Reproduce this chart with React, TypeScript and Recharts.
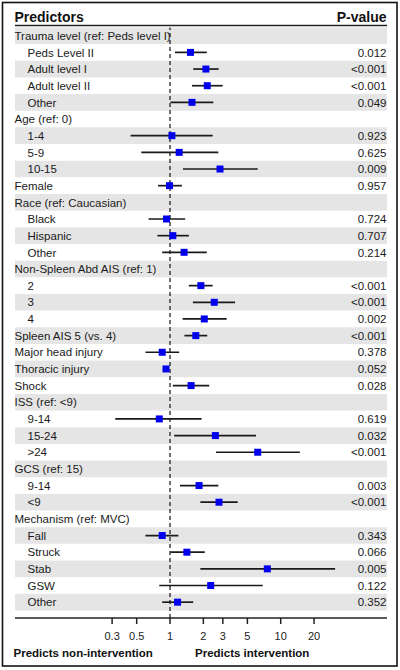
import React from 'react';
import { ComposedChart, Scatter, XAxis, YAxis, ErrorBar, ReferenceArea, ReferenceLine } from 'recharts';

const predictors = [
  'Trauma level (ref: Peds level I)', 'Peds Level II', 'Adult level I', 'Adult level II', 'Other',
  'Age (ref: 0)', '1-4', '5-9', '10-15',
  'Female',
  'Race (ref: Caucasian)', 'Black', 'Hispanic', 'Other',
  'Non-Spleen Abd AIS (ref: 1)', '2', '3', '4',
  'Spleen AIS 5 (vs. 4)', 'Major head injury', 'Thoracic injury', 'Shock',
  'ISS (ref: <9)', '9-14', '15-24', '>24',
  'GCS (ref: 15)', '9-14', '<9',
  'Mechanism (ref: MVC)', 'Fall', 'Struck', 'Stab', 'GSW', 'Other',
];
const indented = [
  false, true, true, true, true,
  false, true, true, true,
  false,
  false, true, true, true,
  false, true, true, true,
  false, false, false, false,
  false, true, true, true,
  false, true, true,
  false, true, true, true, true, true,
];
const oddsRatios: (number | null)[] = [
  null, 1.53, 2.11, 2.17, 1.58,
  null, 1.04, 1.21, 2.83,
  0.99,
  null, 0.93, 1.06, 1.34,
  null, 1.9, 2.51, 2.04,
  1.71, 0.85, 0.92, 1.55,
  null, 0.8, 2.57, 6.2,
  null, 1.83, 2.77,
  null, 0.85, 1.42, 7.57, 2.33, 1.17,
];
const ciLower: (number | null)[] = [
  null, 1.11, 1.62, 1.58, 1.01,
  null, 0.44, 0.55, 1.31,
  0.78,
  null, 0.64, 0.77, 0.85,
  null, 1.48, 1.61, 1.3,
  1.35, 0.6, 0.86, 1.06,
  null, 0.32, 1.09, 2.6,
  null, 1.23, 1.88,
  null, 0.6, 1.01, 1.88, 0.8, 0.85,
];
const ciUpper: (number | null)[] = [
  null, 2.15, 2.75, 2.99, 2.46,
  null, 2.43, 2.73, 6.2,
  1.28,
  null, 1.37, 1.48, 2.15,
  null, 2.43, 3.87, 3.25,
  2.17, 1.21, 0.98, 2.26,
  null, 1.93, 5.98, 14.9,
  null, 2.73, 4.09,
  null, 1.19, 2.06, 31.0, 6.88, 1.62,
];
const pValues = [
  '', '0.012', '<0.001', '<0.001', '0.049',
  '', '0.923', '0.625', '0.009',
  '0.957',
  '', '0.724', '0.707', '0.214',
  '', '<0.001', '<0.001', '0.002',
  '<0.001', '0.378', '0.052', '0.028',
  '', '0.619', '0.032', '<0.001',
  '', '0.003', '<0.001',
  '', '0.343', '0.066', '0.005', '0.122', '0.352',
];
const xTicks = [0.3, 0.5, 1, 2, 3, 5, 10, 20];

const FONT = '"Liberation Sans", Arial, Helvetica, sans-serif';
const rowNumbers = predictors.map((_, i) => i + 1);
const points = predictors
  .map((label, i) => ({
    row: i + 1,
    label,
    or: oddsRatios[i],
    err: oddsRatios[i] != null ? [(oddsRatios[i] as number) - (ciLower[i] as number), (ciUpper[i] as number) - (oddsRatios[i] as number)] : null,
  }))
  .filter((d) => d.or != null);

const RowTick = (props: any) => {
  const { y, payload } = props;
  const i = Math.round(payload.value) - 1;
  return (
    <g>
      <text x={indented[i] ? 27.5 : 14.5} y={y} dy={4.2} fontSize={11.5} fontFamily={FONT} fill="#1a1a1a" textAnchor="start">
        {predictors[i]}
      </text>
      {pValues[i] ? (
        <text x={386.5} y={y} dy={4.2} fontSize={11.5} fontFamily={FONT} fill="#1a1a1a" textAnchor="end">
          {pValues[i]}
        </text>
      ) : null}
    </g>
  );
};

const Square = (props: any) => {
  const { cx, cy } = props;
  if (cx == null || cy == null) return <g />;
  return <rect x={cx - 3.5} y={cy - 3.5} width={7} height={7} fill="#0000ee" />;
};

const Empty = () => <g />;

export default function App() {
  return (
    <div style={{ position: 'absolute', left: 0, top: 0, width: 400, height: 670, background: '#fff' }}>
      <ComposedChart
        width={400}
        height={670}
        data={points}
        margin={{ top: 27.4, right: 13, bottom: 22, left: 14 }}
      >
        {rowNumbers
          .filter((r) => r % 2 === 1)
          .map((r) => (
            <ReferenceArea key={r} y1={r - 0.5} y2={r + 0.5} fill="#e5e5e5" fillOpacity={1} stroke="none" ifOverflow="visible" />
          ))}
        <XAxis
          type="number"
          dataKey="or"
          scale="log"
          domain={[0.0398, 91.2]}
          allowDataOverflow
          ticks={xTicks}
          interval={0}
          tickFormatter={(v: number) => String(v)}
          tick={{ fontSize: 11, fill: '#222', fontFamily: FONT }}
          tickSize={6}
          tickMargin={8}
          height={30}
          axisLine={{ stroke: '#222', strokeWidth: 1.5 }}
          tickLine={{ stroke: '#222', strokeWidth: 1.5 }}
        />
        <YAxis
          type="number"
          dataKey="row"
          domain={[0.5, 35.95]}
          allowDataOverflow
          reversed
          ticks={rowNumbers}
          interval={0}
          width={1}
          axisLine={false}
          tickLine={false}
          tick={RowTick}
        />
        <ReferenceLine x={1} stroke="#222" strokeWidth={1.3} strokeDasharray="4 3" />
        <Scatter data={points} dataKey="or" shape={<Empty />} isAnimationActive={false}>
          <ErrorBar dataKey="err" direction="x" width={0} stroke="#1a1a1a" strokeWidth={1.7} isAnimationActive={false} />
        </Scatter>
        <Scatter data={points} dataKey="or" shape={<Square />} isAnimationActive={false} />
      </ComposedChart>
      <svg width={400} height={670} style={{ position: 'absolute', left: 0, top: 0, pointerEvents: 'none' }}>
        <rect x={2.5} y={2.5} width={394.5} height={663.5} fill="none" stroke="#111" strokeWidth={1.6} />
        <text x={14.5} y={22} fontSize={14} fontWeight="bold" fontFamily={FONT} fill="#111">Predictors</text>
        <text x={386.5} y={22} fontSize={14} fontWeight="bold" fontFamily={FONT} fill="#111" textAnchor="end">P-value</text>
        <line x1={15} x2={387} y1={25.5} y2={25.5} stroke="#222" strokeWidth={1.5} />
        <text x={13.5} y={656.5} fontSize={11.5} fontWeight="bold" fontFamily={FONT} fill="#111">Predicts non-intervention</text>
        <text x={195} y={656.5} fontSize={11.5} fontWeight="bold" fontFamily={FONT} fill="#111">Predicts intervention</text>
      </svg>
    </div>
  );
}
